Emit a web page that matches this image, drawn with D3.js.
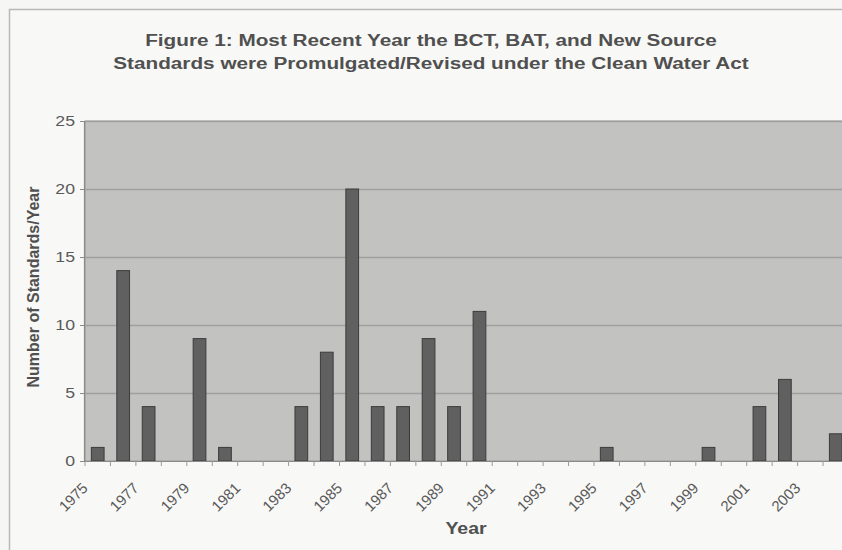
<!DOCTYPE html>
<html>
<head>
<meta charset="utf-8">
<script src="https://cdn.jsdelivr.net/npm/d3@7"></script>
<style>
  html, body { margin: 0; padding: 0; background: #f6f6f4; }
  svg { display: block; }
  text { font-family: "Liberation Sans", Arial, sans-serif; }
</style>
</head>
<body>
<svg id="chart" width="842" height="550"></svg>
<script>
// ---- data ----
const years = [1975,1976,1977,1978,1979,1980,1981,1982,1983,1984,1985,1986,1987,1988,1989,
               1990,1991,1992,1993,1994,1995,1996,1997,1998,1999,2000,2001,2002,2003,2004];
const standards = [1,14,4,0,9,1,0,0,4,8,20,4,4,9,4,
                   11,0,0,0,0,1,0,0,0,1,0,4,6,0,2];
const yTicks = [0,5,10,15,20,25];
const xTickLabels = [1975,1977,1979,1981,1983,1985,1987,1989,1991,1993,1995,1997,1999,2001,2003];
const titleLines = ["Figure 1: Most Recent Year the BCT, BAT, and New Source",
                    "Standards were Promulgated/Revised under the Clean Water Act"];
const yTitle = "Number of Standards/Year";
const xTitle = "Year";

// ---- layout ----
const SX = 1.22; // horizontal stretch of the scanned figure text
const plot = { left: 85, top: 121, right: 848.5, bottom: 461 };
const svg = d3.select("#chart");

// outer chart border
svg.append("rect").attr("x", 9.5).attr("y", 9.5).attr("width", 900).attr("height", 600)
  .attr("fill", "#f8f8f6").attr("stroke", "#b8b8b8").attr("stroke-width", 1.5);

const x = d3.scaleBand().domain(years).range([plot.left, plot.right])
  .paddingInner(0.5).paddingOuter(0.25);
const y = d3.scaleLinear().domain([0, 25]).range([plot.bottom, plot.top]);

// plot area
svg.append("rect").attr("x", plot.left).attr("y", plot.top)
  .attr("width", plot.right - plot.left).attr("height", plot.bottom - plot.top)
  .attr("fill", "#c2c2c1").attr("stroke", "#9a9a9a").attr("stroke-width", 1);

// gridlines
svg.append("g").selectAll("line").data(yTicks.filter(d => d > 0)).join("line")
  .attr("x1", plot.left).attr("x2", plot.right)
  .attr("y1", d => Math.round(y(d)) + 0.5).attr("y2", d => Math.round(y(d)) + 0.5)
  .attr("stroke", "#a0a0a0").attr("stroke-width", 1.3);

// bars
svg.append("g").selectAll("rect").data(years.map((yr, i) => ({ yr, v: standards[i] })).filter(d => d.v > 0))
  .join("rect")
  .attr("x", d => x(d.yr)).attr("width", x.bandwidth())
  .attr("y", d => y(d.v)).attr("height", d => y(0) - y(d.v))
  .attr("fill", "#606060").attr("stroke", "#3c3c3c").attr("stroke-width", 1);

// x axis line & ticks at category boundaries
const step = x.step();
const xStart = plot.left;
svg.append("line").attr("x1", plot.left).attr("x2", plot.right)
  .attr("y1", plot.bottom + 0.5).attr("y2", plot.bottom + 0.5)
  .attr("stroke", "#8a8a8a").attr("stroke-width", 1.2);
svg.append("g").selectAll("line").data(d3.range(years.length + 1)).join("line")
  .attr("x1", i => xStart + i * step).attr("x2", i => xStart + i * step)
  .attr("y1", plot.bottom).attr("y2", plot.bottom + 5)
  .attr("stroke", "#9a9a9a").attr("stroke-width", 1);

// y axis line & ticks
svg.append("line").attr("x1", plot.left - 0.5).attr("x2", plot.left - 0.5)
  .attr("y1", plot.top).attr("y2", plot.bottom)
  .attr("stroke", "#8a8a8a").attr("stroke-width", 1.2);
svg.append("g").selectAll("line").data(yTicks).join("line")
  .attr("x1", plot.left - 5).attr("x2", plot.left)
  .attr("y1", d => Math.round(y(d)) + 0.5).attr("y2", d => Math.round(y(d)) + 0.5)
  .attr("stroke", "#8a8a8a").attr("stroke-width", 1);

// y tick labels
svg.append("g").selectAll("text").data(yTicks).join("text")
  .attr("transform", d => `translate(75,${y(d) + 5}) scale(${SX},1)`)
  .attr("text-anchor", "end").attr("font-size", 14.5).attr("fill", "#5a5a5a")
  .text(d => d);

// x tick labels (rotated)
svg.append("g").selectAll("text").data(xTickLabels).join("text")
  .attr("transform", d => `translate(${x(d) + x.bandwidth() / 2 - 9},489) rotate(-45)`)
  .attr("text-anchor", "end").attr("font-size", 15).attr("fill", "#5a5a5a")
  .text(d => d);

// titles
svg.append("g").selectAll("text").data(titleLines).join("text")
  .attr("transform", (d, i) => `translate(431,${46 + i * 23}) scale(${SX},1)`)
  .attr("text-anchor", "middle").attr("font-size", 17).attr("font-weight", "bold")
  .attr("fill", "#505050").text(d => d);

svg.append("text")
  .attr("transform", `translate(39,287) rotate(-90)`)
  .attr("text-anchor", "middle").attr("font-size", 16).attr("font-weight", "bold")
  .attr("fill", "#505050").text(yTitle);

svg.append("text")
  .attr("transform", `translate(466,534) scale(${SX},1)`)
  .attr("text-anchor", "middle").attr("font-size", 16).attr("font-weight", "bold")
  .attr("fill", "#505050").text(xTitle);
</script>
</body>
</html>
